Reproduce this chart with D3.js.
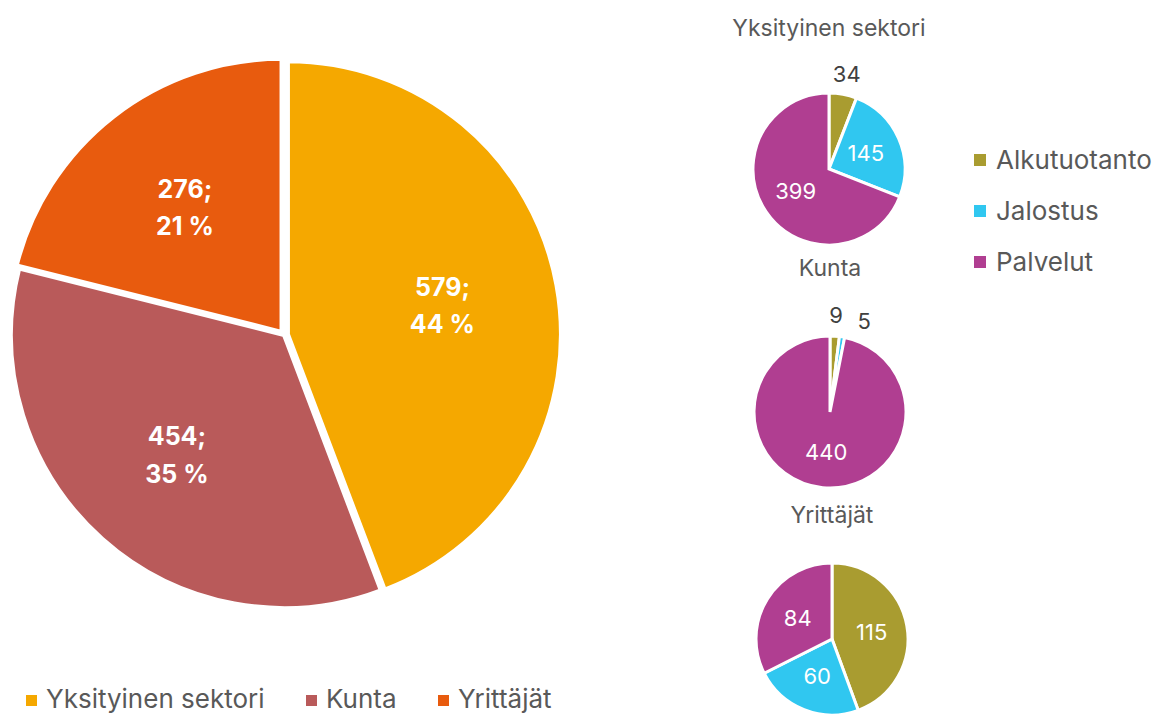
<!DOCTYPE html>
<html>
<head>
<meta charset="utf-8">
<script src="https://cdn.jsdelivr.net/npm/d3@7"></script>
<style>
  body { margin: 0; background: #fff; }
  text { font-family: Inter, "Open Sans", sans-serif; }
</style>
</head>
<body>
<div id="chart"></div>
<script>
// päädata
var sectors = ['Yksityinen sektori', 'Kunta', 'Yrittäjät']
var sectorTotals = [579, 454, 276]
var sectorColors = ['#F5A800', '#B95A5A', '#E85B0E']

// toimialat
var branches = ['Alkutuotanto', 'Jalostus', 'Palvelut']
var branchColors = ['#A99C30', '#30C7F0', '#B03E91']
var privateValues = [34, 145, 399]
var municipalValues = [9, 5, 440]
var entrepreneurValues = [115, 60, 84]

var width = 1162, height = 722
var svg = d3.select('#chart').append('svg')
    .attr('width', width)
    .attr('height', height)

// iso piirakka
var bigR = 273
var big = svg.append('g').attr('transform', 'translate(284,335)')
var pie = d3.pie().sort(null).value(d => d)
var bigArcs = pie(sectorTotals)
var total = d3.sum(sectorTotals)
var arc = d3.arc().innerRadius(0).outerRadius(bigR)
var labelArc = d3.arc().innerRadius(bigR * 0.59).outerRadius(bigR * 0.59)

big.selectAll('path')
    .data(bigArcs)
    .enter()
    .append('path')
    .attr('d', arc)
    .attr('fill', (d, i) => sectorColors[i])
    .attr('stroke', '#fff')
    .attr('stroke-width', 4)
    .attr('transform', function (d, i) {
        // pieni irrotus
        var a = (d.startAngle + d.endAngle) / 2
        var off = i === 1 ? 0 : 4
        return `translate(${Math.sin(a) * off},${-Math.cos(a) * off})`
    })

var bigLabels = big.selectAll('.lbl')
    .data(bigArcs)
    .enter()
    .append('text')
    .attr('class', 'lbl')
    .attr('transform', d => `translate(${labelArc.centroid(d)})`)
    .attr('text-anchor', 'middle')
    .attr('fill', '#fff')
    .attr('font-size', 25)
    .attr('font-weight', 'bold')
bigLabels.append('tspan')
    .attr('x', 0).attr('dy', '-0.4em')
    .text(d => d.value + ';')
bigLabels.append('tspan')
    .attr('x', 0).attr('dy', '1.5em')
    .text(d => Math.round(d.value / total * 100) + ' %')

// alalegenda
var bottomLegend = svg.append('g').attr('transform', 'translate(26,708)')
var bx = [0, 280, 412]
sectors.forEach(function (s, i) {
    var g = bottomLegend.append('g').attr('transform', `translate(${bx[i]},0)`)
    g.append('rect').attr('x', 0).attr('y', -13).attr('width', 11).attr('height', 11)
        .attr('fill', sectorColors[i])
    g.append('text').attr('x', 20).attr('y', 0).attr('font-size', 26)
        .attr('fill', '#595959').text(s)
})

// pienet piirakat
var smallR = 76
var small = [
    {title: sectors[0], values: privateValues, cx: 829, cy: 169, ty: 36},
    {title: sectors[1], values: municipalValues, cx: 830, cy: 412, ty: 276},
    {title: sectors[2], values: entrepreneurValues, cx: 832, cy: 639, ty: 523}
]
var sArc = d3.arc().innerRadius(0).outerRadius(smallR)
var inR = smallR * 0.53, outR = smallR * 1.27

small.forEach(function (p) {
    svg.append('text')
        .attr('x', p.cx).attr('y', p.ty)
        .attr('text-anchor', 'middle')
        .attr('font-size', 23)
        .attr('fill', '#595959')
        .text(p.title)
    var g = svg.append('g').attr('transform', `translate(${p.cx},${p.cy})`)
    var sum = d3.sum(p.values)
    var arcs = pie(p.values)
    g.selectAll('path')
        .data(arcs)
        .enter()
        .append('path')
        .attr('d', sArc)
        .attr('fill', (d, i) => branchColors[i])
        .attr('stroke', '#fff')
        .attr('stroke-width', 3)
    // ulkopuoliset tunnukset eivät saa mennä päällekkäin
    var lastOut = -1
    arcs.forEach(function (d) {
        var a = (d.startAngle + d.endAngle) / 2
        d.outside = d.value / sum < 0.08
        if (d.outside) {
            if (lastOut >= 0 && a - lastOut < 0.3) a = lastOut + 0.3
            lastOut = a
        }
        d.labelAngle = a
    })
    g.selectAll('text')
        .data(arcs)
        .enter()
        .append('text')
        .attr('x', d => Math.sin(d.labelAngle) * (d.outside ? outR : inR))
        .attr('y', d => -Math.cos(d.labelAngle) * (d.outside ? outR : inR))
        .attr('text-anchor', 'middle')
        .attr('dy', '0.35em')
        .attr('font-size', 22)
        .attr('fill', d => d.outside ? '#404040' : '#fff')
        .text(d => d.value)
})

// oikea legenda
var rightLegend = svg.append('g').attr('transform', 'translate(974,160)')
branches.forEach(function (b, i) {
    var g = rightLegend.append('g').attr('transform', `translate(0,${i * 51})`)
    g.append('rect').attr('x', 0).attr('y', -6).attr('width', 12).attr('height', 12)
        .attr('fill', branchColors[i])
    g.append('text').attr('x', 22).attr('y', 0).attr('dy', '0.35em')
        .attr('font-size', 26).attr('fill', '#595959').text(b)
})
</script>
</body>
</html>
